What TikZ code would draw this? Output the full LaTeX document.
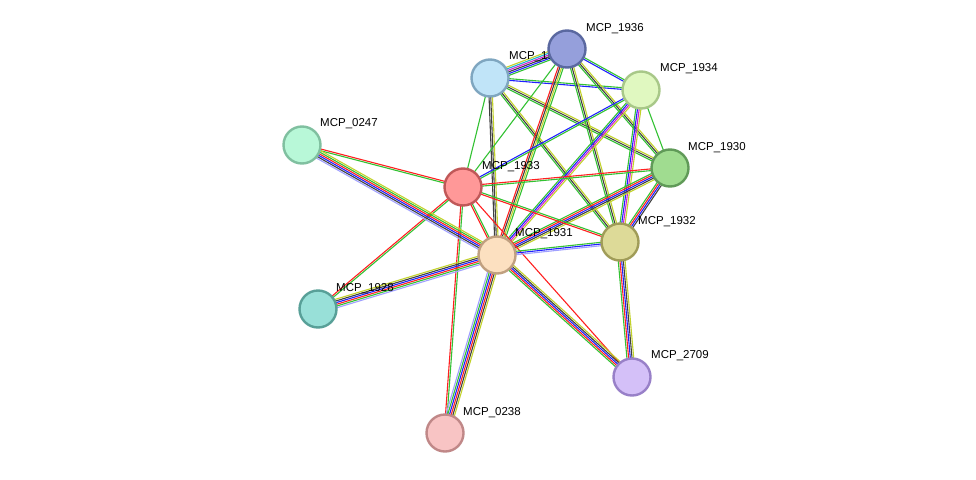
\documentclass[tikz,border=0pt]{standalone}
\usepackage{fontspec}
\setmainfont{Liberation Sans}
\usetikzlibrary{calc,backgrounds}
\definecolor{eg}{HTML}{33C233}
\definecolor{er}{HTML}{FF2020}
\definecolor{eb}{HTML}{2020FF}
\definecolor{ek}{HTML}{404040}
\definecolor{ey}{HTML}{C2D22A}
\definecolor{ep}{HTML}{A0A0FF}
\definecolor{em}{HTML}{D020D0}
\definecolor{ec}{HTML}{20B0D0}
\newcommand\pcol[3]{\definecolor{f#1}{HTML}{#2}\definecolor{d#1}{HTML}{#3}}
\pcol{35}{C0E4F8}{7FA6C0}
\pcol{36}{959FDB}{5A68A0}
\pcol{34}{E0F8C0}{A8C888}
\pcol{0247}{B8F8D8}{80C0A0}
\pcol{30}{A0DC90}{609A58}
\pcol{33}{FF9898}{C05858}
\pcol{32}{DDDA98}{A09C58}
\pcol{31}{FCE0C0}{C0A080}
\pcol{28}{98E0D8}{58A098}
\pcol{2709}{D4C0F8}{9880C8}
\pcol{0238}{F8C4C4}{C08888}
\newcommand\edg[3]{%
  \foreach \c [count=\i] in {#3}{\global\let\nn\i}%
  \foreach \c [count=\i] in {#3}{%
    \pgfmathsetmacro\o{(\i-(\nn+1)/2)*1.7}%
    \draw[\c] ($(#1)!\o pt!90:(#2)$) -- ($(#2)!\o pt!-90:(#1)$);}}
\begin{document}
\begin{tikzpicture}[x=1pt,y=-1pt,
  prot/.style={circle,minimum size=37pt,inner sep=0pt,fill=f#1,draw=d#1,line width=2.4pt},
  lab/.style={anchor=south west,font=\fontsize{11.5}{12}\selectfont,inner sep=0pt}]
\useasboundingbox (0,0) rectangle (976,479);
\node[lab] (l35) at (509,62) {MCP\_1935};
\node[prot=35] (n35) at (490,78) {};
\node[prot=36] (n36) at (567,49) {};
\node[prot=34] (n34) at (641,90) {};
\node[prot=0247] (n0247) at (302,145) {};
\node[prot=30] (n30) at (670,168) {};
\node[prot=33] (n33) at (463,187) {};
\node[prot=32] (n32) at (620,242) {};
\node[prot=31] (n31) at (497,255) {};
\node[prot=28] (n28) at (318,309) {};
\node[prot=2709] (n2709) at (632,377) {};
\node[prot=0238] (n0238) at (445,433) {};
\node[lab] (l36) at (586,34) {MCP\_1936};
\node[lab] (l34) at (660,74) {MCP\_1934};
\node[lab] (l0247) at (320,129) {MCP\_0247};
\node[lab] (l30) at (688,153) {MCP\_1930};
\node[lab] (l33) at (482,172) {MCP\_1933};
\node[lab] (l32) at (638,227) {MCP\_1932};
\node[lab] (l31) at (515,239) {MCP\_1931};
\node[lab] (l28) at (336,294) {MCP\_1928};
\node[lab] (l2709) at (651,361) {MCP\_2709};
\node[lab] (l0238) at (463,418) {MCP\_0238};
\begin{pgfonlayer}{background}
\fill[white] (0,0) rectangle (976,479);
\begin{scope}[line width=1.1pt]
\edg{n35}{n36}{eg,eb,ek,em,ec,ey}
\edg{n35}{n34}{eb,eg}
\edg{n35}{n30}{eg,ek,ey}
\edg{n35}{n32}{eg,ek,ey}
\edg{n35}{n31}{ek,ek,ey}
\edg{n35}{n33}{eg}
\edg{n36}{n34}{eb,eg}
\edg{n36}{n30}{eg,ek,ey}
\edg{n36}{n32}{eg,ek,ey}
\edg{n36}{n31}{er,ek,ey,eg}
\edg{n36}{n33}{eg}
\edg{n34}{n30}{eg}
\edg{n34}{n32}{eg,eb,em,ey}
\edg{n34}{n31}{eg,eb,em,ey}
\edg{n34}{n33}{eb,eg}
\edg{n30}{n33}{er,eg}
\edg{n30}{n31}{eg,er,eb,ek,ey}
\edg{n30}{n32}{eg,er,eb,ek}
\edg{n33}{n31}{er,eg}
\edg{n33}{n32}{er,eg}
\edg{n33}{n28}{er,eg}
\edg{n33}{n0247}{er,eg}
\edg{n33}{n0238}{er,eg}
\edg{n33}{n2709}{er}
\edg{n0247}{n31}{ep,ek,eb,er,eg,ey}
\edg{n28}{n31}{ep,eg,er,eb,ek,ey}
\edg{n31}{n32}{ep,eb,eg}
\edg{n31}{n0238}{ep,eg,eb,er,ek,ey}
\edg{n31}{n2709}{eg,er,eb,ek,ey}
\edg{n32}{n2709}{eg,er,eb,ek,ey}
\end{scope}
\end{pgfonlayer}
\end{tikzpicture}
\end{document}
